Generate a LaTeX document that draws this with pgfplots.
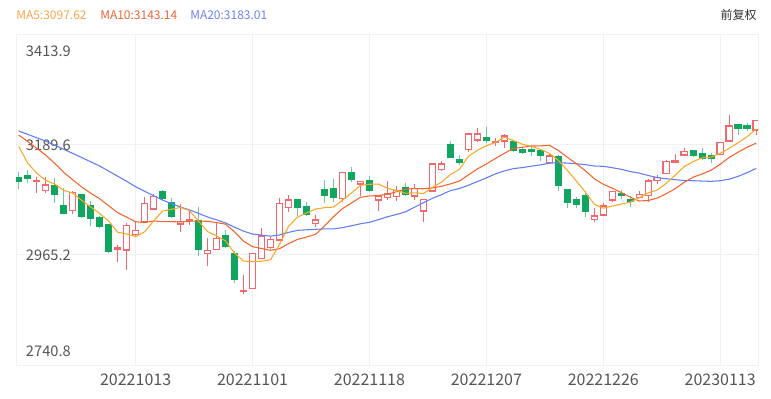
\documentclass[border=0pt]{standalone}
\usepackage{fontspec}
\setmainfont{Noto Sans CJK SC}
\usepackage{pgfplots}
\pgfplotsset{compat=1.18}
\usepgfplotslibrary{statistics}
\definecolor{upc}{RGB}{242,104,108}
\definecolor{dnc}{RGB}{16,166,96}
\definecolor{dnwick}{RGB}{112,198,158}
\definecolor{maA}{RGB}{250,168,40}
\definecolor{maB}{RGB}{243,101,44}
\definecolor{maC}{RGB}{96,125,245}
\definecolor{maAt}{RGB}{246,166,78}
\definecolor{maBt}{RGB}{240,98,52}
\definecolor{maCt}{RGB}{112,128,240}
\definecolor{gridc}{RGB}{240,240,240}
\definecolor{labc}{RGB}{85,85,85}
\pgfplotsset{
  candleup/.style={draw=upc, fill=white, line width=0.95pt, boxplot/draw direction=y,
    boxplot/every whisker/.style={line width=1pt}},
  candledn/.style={draw=dnc, fill=dnc, line width=0.75pt, boxplot/draw direction=y,
    boxplot/every whisker/.style={draw=dnwick, line width=1pt}},
}
% up candle: index, open, high, low, close
\newcommand{\cu}[5]{\addplot[candleup, boxplot prepared={draw position=#1, box extend=0.7, whisker extend=0,
  lower whisker=#4, lower quartile=#2, median=#2, upper quartile=#5, upper whisker=#3}] coordinates {};}
% down candle: index, open, high, low, close
\newcommand{\cd}[5]{\addplot[candledn, boxplot prepared={draw position=#1, box extend=0.72, whisker extend=0,
  lower whisker=#4, lower quartile=#5, median=#5, upper quartile=#2, upper whisker=#3}] coordinates {};}
\begin{document}
\begin{tikzpicture}
\begin{axis}[
  width=556.5pt, height=247.5pt, scale only axis,
  xmin=-0.3, xmax=82.2, ymin=2740.8, ymax=3413.9,
  axis line style={draw=gridc, line width=0.75pt},
  xtick={13,26,39,52,65,78},
  xticklabels={20221013,20221101,20221118,20221207,20221226,20230113},
  ytick={2740.8,2965.2,3189.6,3413.9},
  yticklabels={,,,},
  xmajorgrids, ymajorgrids,
  grid style={draw=gridc, line width=0.75pt},
  major tick length=0pt,
  xticklabel style={font=\fontsize{12}{14}\selectfont, text=labc, yshift=-3pt},
  extra y ticks={2769.4,2965.2,3189.6,3381.3},
  extra y tick labels={2740.8,2965.2,3189.6,3413.9},
  extra y tick style={grid=none, yticklabel style={anchor=west, inner sep=0pt, xshift=7.3pt, font=\fontsize{11}{13}\selectfont, text=labc}},
]
\cd{0}{3122.9}{3135.1}{3099.9}{3114.75}
\cd{1}{3127.8}{3138.6}{3111.5}{3120.9}
\cu{2}{3116.0}{3124.9}{3091.1}{3117.2}
\cu{3}{3096.4}{3124.9}{3092.3}{3108.0}
\cd{4}{3106.6}{3122.9}{3071.9}{3089.05}
\cd{5}{3065.8}{3101.3}{3048.25}{3050.3}
\cu{6}{3055.6}{3095.8}{3048.9}{3093.1}
\cd{7}{3089.05}{3090.0}{3042.0}{3043.4}
\cd{8}{3065.8}{3076.0}{3024.4}{3040.1}
\cd{9}{3042.1}{3044.8}{3019.7}{3022.95}
\cd{10}{3026.4}{3027.0}{2968.7}{2971.97}
\cu{11}{2977.5}{2985.6}{2951.6}{2979.8}
\cu{12}{2975.4}{3029.9}{2934.6}{3025.0}
\cu{13}{3006.6}{3035.2}{3004.0}{3014.8}
\cu{14}{3033.2}{3082.9}{3029.9}{3070.7}
\cu{15}{3059.1}{3089.7}{3057.0}{3084.15}
\cd{16}{3094.35}{3097.8}{3077.4}{3079.5}
\cd{17}{3072.7}{3080.9}{3041.3}{3043.4}
\cu{18}{3028.5}{3068.65}{3012.8}{3033.2}
\cu{19}{3035.5}{3057.0}{3026.4}{3038.0}
\cd{20}{3034.6}{3063.75}{2963.8}{2975.4}
\cu{21}{2967.9}{2999.3}{2943.4}{2974.8}
\cu{22}{2976.9}{3029.9}{2975.4}{2999.3}
\cd{23}{3004.6}{3016.2}{2980.9}{2982.2}
\cd{24}{2967.3}{2973.4}{2907.5}{2914.2}
\cu{25}{2892.0}{2924.4}{2885.1}{2893.5}
\cu{26}{2897.3}{2969.5}{2896.5}{2968.7}
\cu{27}{2958.5}{3019.7}{2957.1}{3004.0}
\cu{28}{2980.1}{3002.6}{2976.9}{2997.3}
\cu{29}{2995.8}{3080.9}{2994.4}{3070.7}
\cu{30}{3061.7}{3087.6}{3053.6}{3077.4}
\cd{31}{3077.4}{3078.85}{3044.8}{3062.5}
\cd{32}{3063.75}{3073.95}{3044.8}{3046.8}
\cu{33}{3029.9}{3046.8}{3021.7}{3036.6}
\cd{34}{3099.2}{3118.2}{3070.7}{3085.6}
\cd{35}{3100.5}{3120.25}{3073.95}{3082.9}
\cu{36}{3080.9}{3134.5}{3073.95}{3133.9}
\cd{37}{3133.1}{3145.3}{3114.75}{3118.2}
\cu{38}{3110.1}{3116.8}{3085.6}{3115.6}
\cd{39}{3116.8}{3126.4}{3094.35}{3096.4}
\cu{40}{3077.4}{3086.5}{3055.6}{3085.6}
\cu{41}{3082.9}{3116.8}{3077.4}{3089.7}
\cu{42}{3084.15}{3105.98}{3075.4}{3096.4}
\cd{43}{3103.3}{3112.7}{3085.6}{3087.6}
\cu{44}{3085.6}{3110.1}{3077.4}{3100.5}
\cu{45}{3055.0}{3079.5}{3033.2}{3078.85}
\cu{46}{3095.8}{3151.5}{3094.35}{3150.85}
\cu{47}{3140.0}{3157.6}{3137.2}{3150.85}
\cd{48}{3189.6}{3197.8}{3162.5}{3164.5}
\cd{49}{3160.4}{3169.2}{3148.8}{3154.3}
\cu{50}{3180.8}{3212.7}{3175.9}{3212.0}
\cu{51}{3199.8}{3223.7}{3195.1}{3212.0}
\cd{52}{3205.3}{3226.9}{3194.3}{3197.8}
\cu{53}{3195.0}{3203.3}{3187.6}{3197.3}
\cu{54}{3197.8}{3212.0}{3182.9}{3208.0}
\cd{55}{3196.3}{3197.0}{3175.9}{3178.0}
\cd{56}{3179.4}{3186.1}{3170.6}{3174.7}
\cd{57}{3179.4}{3189.6}{3167.8}{3175.3}
\cd{58}{3178.0}{3179.4}{3157.6}{3167.8}
\cu{59}{3154.3}{3172.7}{3150.85}{3167.2}
\cd{60}{3165.7}{3169.2}{3095.8}{3105.98}
\cd{61}{3099.2}{3100.0}{3060.5}{3072.7}
\cd{62}{3078.85}{3082.9}{3060.5}{3067.2}
\cd{63}{3085.6}{3095.8}{3043.4}{3053.6}
\cu{64}{3038.05}{3060.5}{3031.9}{3044.8}
\cu{65}{3046.8}{3070.7}{3044.8}{3065.2}
\cu{66}{3077.4}{3095.8}{3073.95}{3094.35}
\cd{67}{3089.7}{3097.8}{3078.85}{3087.0}
\cd{68}{3077.4}{3085.6}{3063.75}{3073.3}
\cu{69}{3082.9}{3095.8}{3080.9}{3089.05}
\cu{70}{3086.2}{3119.6}{3072.7}{3116.2}
\cu{71}{3116.8}{3128.4}{3110.1}{3122.9}
\cu{72}{3131.9}{3159.0}{3130.45}{3155.5}
\cu{73}{3154.3}{3170.6}{3152.3}{3157.0}
\cu{74}{3169.2}{3182.9}{3167.8}{3175.9}
\cd{75}{3178.0}{3178.5}{3164.5}{3167.8}
\cd{76}{3172.7}{3184.1}{3159.0}{3161.05}
\cd{77}{3167.8}{3172.7}{3153.5}{3162.5}
\cu{78}{3170.6}{3196.0}{3169.2}{3195.1}
\cu{79}{3197.8}{3250.8}{3196.3}{3228.4}
\cd{80}{3230.4}{3231.0}{3210.0}{3223.7}
\cd{81}{3228.4}{3233.9}{3218.8}{3223.7}
\cu{82}{3220.2}{3240.0}{3210.0}{3239.2}
% MA20
\addplot[maC, line width=0.8pt, no markers] coordinates {(0,3218.2)(3,3197.5)(6,3172.5)(9,3146.7)(12,3115.6)(13,3104.4)(16,3077)(18,3063)(19,3057.01)(20,3050.05)(21,3042.74)(22,3036.85)(23,3030.56)(24,3021.81)(25,3013.97)(26,3007.75)(27,3005.78)(28,3003.64)(29,3006.03)(30,3011.30)(31,3015.44)(32,3016.53)(33,3017.62)(34,3018.36)(35,3018.30)(36,3021.02)(37,3024.76)(38,3028.88)(39,3031.80)(40,3037.31)(41,3043.06)(42,3047.91)(43,3053.18)(44,3062.50)(45,3071.76)(46,3080.87)(47,3088.21)(48,3096.57)(49,3100.75)(50,3107.48)(51,3114.96)(52,3122.51)(53,3130.54)(54,3136.66)(55,3141.42)(56,3143.46)(57,3146.31)(58,3148.92)(59,3152.46)(60,3153.48)(61,3152.63)(62,3151.17)(63,3149.47)(64,3146.69)(65,3146.00)(66,3143.18)(67,3139.99)(68,3135.43)(69,3132.16)(70,3127.37)(71,3122.92)(72,3120.80)(73,3118.79)(74,3117.18)(75,3116.67)(76,3115.99)(77,3115.35)(78,3116.72)(79,3119.78)(80,3125.66)(81,3133.21)(82,3141.81)};
% MA10
\addplot[maB, line width=0.8pt, no markers] coordinates {(0,3210)(1,3196.5)(2,3182.9)(3,3169.1)(4,3152.0)(5,3133.7)(6,3118.7)(7,3104.0)(8,3091.2)(9,3079.98)(10,3065.70)(11,3051.59)(12,3042.37)(13,3033.05)(14,3031.21)(15,3034.60)(16,3033.24)(17,3033.24)(18,3032.55)(19,3034.05)(20,3034.40)(21,3033.90)(22,3031.33)(23,3028.07)(24,3012.42)(25,2993.35)(26,2982.27)(27,2978.33)(28,2974.74)(29,2978.01)(30,2988.21)(31,2996.98)(32,3001.73)(33,3007.17)(34,3024.31)(35,3043.25)(36,3059.77)(37,3071.19)(38,3083.02)(39,3085.59)(40,3086.41)(41,3089.13)(42,3094.09)(43,3099.19)(44,3100.68)(45,3100.28)(46,3101.97)(47,3105.24)(48,3110.13)(49,3115.92)(50,3128.56)(51,3140.79)(52,3150.93)(53,3161.90)(54,3172.65)(55,3182.56)(56,3184.95)(57,3187.39)(58,3187.72)(59,3189.01)(60,3178.41)(61,3164.48)(62,3151.42)(63,3137.05)(64,3120.73)(65,3109.45)(66,3101.41)(67,3092.58)(68,3083.13)(69,3075.32)(70,3076.34)(71,3081.36)(72,3090.19)(73,3100.53)(74,3113.64)(75,3123.90)(76,3130.57)(77,3138.12)(78,3150.30)(79,3164.24)(80,3174.99)(81,3185.07)(82,3193.44)};
% MA5
\addplot[maA, line width=0.8pt, no markers] coordinates {(0,3186.5)(1,3152.9)(2,3132)(3,3117.6)(4,3109.98)(5,3097.09)(6,3091.53)(7,3076.77)(8,3063.19)(9,3049.97)(10,3034.30)(11,3011.64)(12,3007.96)(13,3002.90)(14,3012.45)(15,3034.89)(16,3054.83)(17,3058.51)(18,3062.19)(19,3055.65)(20,3033.90)(21,3012.96)(22,3004.14)(23,2993.94)(24,2969.18)(25,2952.80)(26,2951.58)(27,2952.52)(28,2955.54)(29,2986.84)(30,3023.62)(31,3042.38)(32,3050.94)(33,3058.80)(34,3061.78)(35,3062.88)(36,3077.16)(37,3091.44)(38,3107.24)(39,3109.40)(40,3109.94)(41,3101.10)(42,3096.74)(43,3091.14)(44,3091.96)(45,3090.61)(46,3102.84)(47,3113.73)(48,3129.11)(49,3139.87)(50,3166.50)(51,3178.73)(52,3188.12)(53,3194.68)(54,3205.42)(55,3198.62)(56,3191.16)(57,3186.66)(58,3180.76)(59,3172.60)(60,3158.20)(61,3137.80)(62,3116.18)(63,3093.34)(64,3068.86)(65,3060.70)(66,3065.03)(67,3068.99)(68,3072.93)(69,3081.78)(70,3091.98)(71,3097.69)(72,3111.39)(73,3128.13)(74,3145.50)(75,3155.82)(76,3163.45)(77,3164.85)(78,3172.47)(79,3182.97)(80,3194.15)(81,3206.68)(82,3222.02)};
\end{axis}
\path ([shift={(-12pt,-24.75pt)}]current axis.south west) rectangle ([shift={(9.75pt,26.25pt)}]current axis.north east);
\node[anchor=west, inner sep=0pt, text=maAt, font=\fontsize{9}{11}\selectfont] at ([yshift=15pt]current axis.north west) {MA5:3097.62};
\node[anchor=west, inner sep=0pt, text=maBt, font=\fontsize{9}{11}\selectfont] at ([shift={(63pt,15pt)}]current axis.north west) {MA10:3143.14};
\node[anchor=west, inner sep=0pt, text=maCt, font=\fontsize{9}{11}\selectfont] at ([shift={(130.5pt,15pt)}]current axis.north west) {MA20:3183.01};
\node[anchor=east, inner sep=0pt, text=black!80, font=\fontsize{9}{11}\selectfont] at ([shift={(-0.75pt,15pt)}]current axis.north east) {前复权};
\end{tikzpicture}
\end{document}
